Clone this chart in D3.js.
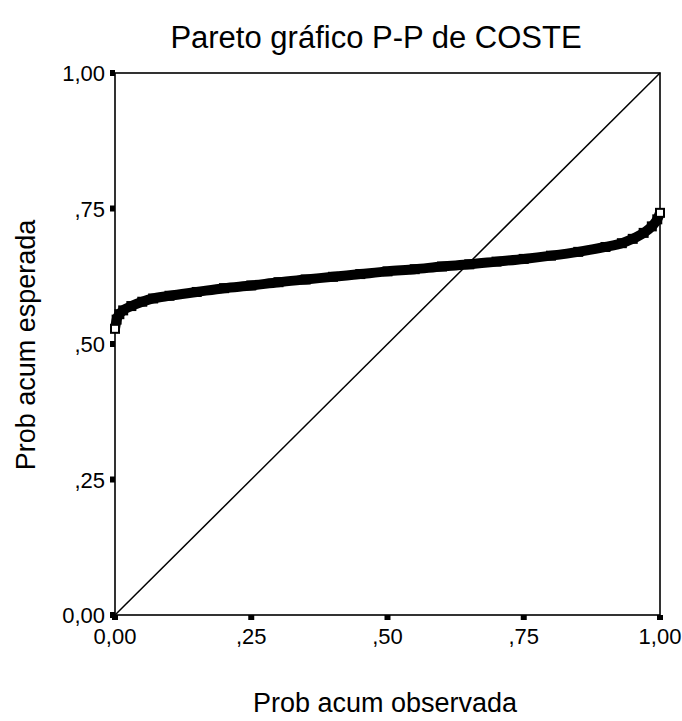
<!DOCTYPE html>
<html>
<head>
<meta charset="utf-8">
<script src="https://cdn.jsdelivr.net/npm/d3@7"></script>
<style>
  html, body { margin: 0; padding: 0; background: #fff; }
  svg { display: block; }
  text { font-family: Arial, "Liberation Sans", sans-serif; fill: #000; }
</style>
</head>
<body>
<svg id="chart" width="682" height="721"></svg>
<script>
// Observed cumulative probability (x) and expected cumulative probability (y)
const observed = [0, 0.003, 0.008, 0.015, 0.03, 0.05, 0.07, 0.10, 0.15, 0.20,
  0.25, 0.30, 0.35, 0.40, 0.45, 0.50, 0.55, 0.60, 0.65, 0.70,
  0.75, 0.80, 0.85, 0.90, 0.93, 0.95, 0.97, 0.985, 0.995, 1.0];
const expected = [0.528, 0.545, 0.555, 0.562, 0.570, 0.578, 0.584, 0.589, 0.596, 0.603,
  0.608, 0.614, 0.619, 0.624, 0.629, 0.634, 0.638, 0.643, 0.647, 0.652,
  0.657, 0.663, 0.670, 0.679, 0.686, 0.694, 0.705, 0.717, 0.730, 0.742];
const tickValues = [0, 0.25, 0.5, 0.75, 1];
const tickLabels = ["0,00", ",25", ",50", ",75", "1,00"];
const reference = [[0, 0], [1, 1]];

const svg = d3.select("#chart");
const plotLeft = 115, plotRight = 660, plotTop = 73, plotBottom = 615;

const x = d3.scaleLinear().domain([0, 1]).range([plotLeft, plotRight]);
const y = d3.scaleLinear().domain([0, 1]).range([plotBottom, plotTop]);

// Title
svg.append("text")
  .attr("x", 376).attr("y", 48)
  .attr("text-anchor", "middle")
  .style("font-size", "31px")
  .text("Pareto gráfico P-P de COSTE");

// Frame
svg.append("rect")
  .attr("x", plotLeft).attr("y", plotTop)
  .attr("width", plotRight - plotLeft).attr("height", plotBottom - plotTop)
  .attr("fill", "none").attr("stroke", "#000").attr("stroke-width", 1.6);

// Y ticks (small blocks to the left of the axis) and labels
const yt = svg.append("g");
tickValues.forEach((v, i) => {
  yt.append("rect")
    .attr("x", plotLeft - 5).attr("y", y(v) - 3)
    .attr("width", 5).attr("height", 6).attr("fill", "#000");
  yt.append("text")
    .attr("x", plotLeft - 10).attr("y", y(v) + 8)
    .attr("text-anchor", "end")
    .style("font-size", "22px")
    .text(tickLabels[i]);
});

// X ticks (small blocks under the axis) and labels
const xt = svg.append("g");
tickValues.forEach((v, i) => {
  xt.append("rect")
    .attr("x", x(v) - 3).attr("y", plotBottom)
    .attr("width", 6).attr("height", 5).attr("fill", "#000");
  xt.append("text")
    .attr("x", x(v)).attr("y", plotBottom + 29)
    .attr("text-anchor", "middle")
    .style("font-size", "22px")
    .text(tickLabels[i]);
});

// Axis titles
svg.append("text")
  .attr("x", 385).attr("y", 712)
  .attr("text-anchor", "middle")
  .style("font-size", "27px")
  .text("Prob acum observada");
svg.append("text")
  .attr("transform", "translate(35,345) rotate(-90)")
  .attr("text-anchor", "middle")
  .style("font-size", "27px")
  .text("Prob acum esperada");

// Diagonal reference line
const line = d3.line().x(d => x(d[0])).y(d => y(d[1]));
svg.append("path")
  .datum(reference)
  .attr("d", line)
  .attr("fill", "none").attr("stroke", "#000").attr("stroke-width", 1.5);

// P-P points: dense square markers merge into a thick band
const pts = observed.map((v, i) => [v, expected[i]]);
svg.append("path")
  .datum(pts)
  .attr("d", d3.line().x(d => x(d[0])).y(d => y(d[1])).curve(d3.curveMonotoneX))
  .attr("fill", "none").attr("stroke", "#000")
  .attr("stroke-width", 10).attr("stroke-linejoin", "round");

svg.append("g").selectAll("rect")
  .data(pts)
  .join("rect")
  .attr("x", d => x(d[0]) - 4).attr("y", d => y(d[1]) - 4)
  .attr("width", 8).attr("height", 8)
  .attr("fill", (d, i) => (i === 0 || i === pts.length - 1) ? "#fff" : "#000")
  .attr("stroke", "#000").attr("stroke-width", 2);
</script>
</body>
</html>
